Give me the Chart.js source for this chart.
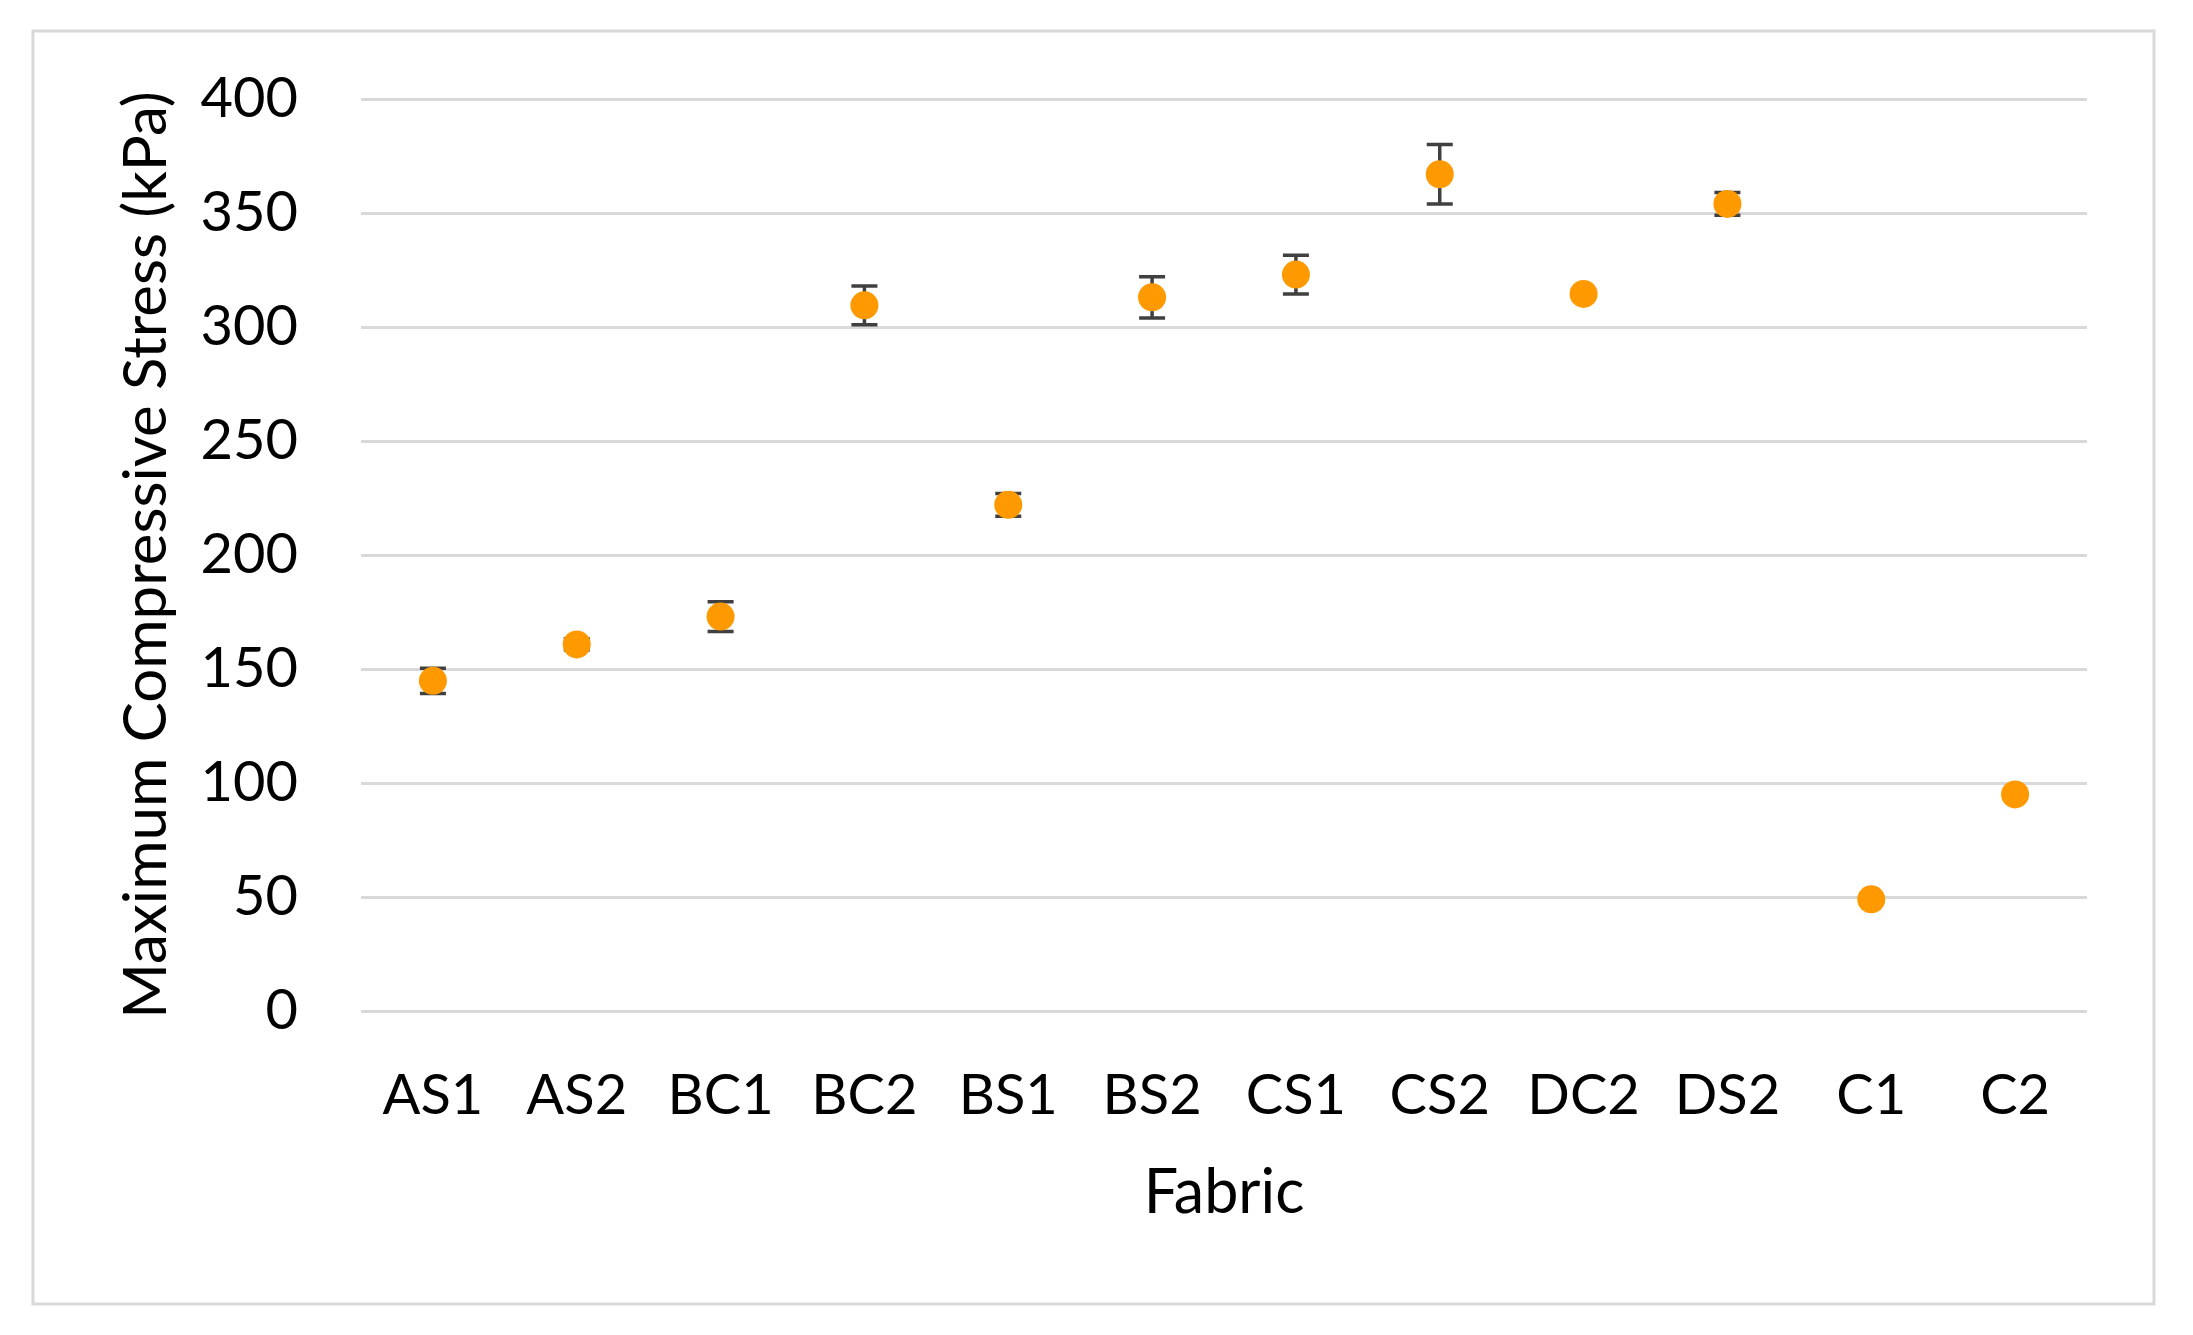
<!DOCTYPE html>
<html lang="en">
  <head>
    <meta charset="UTF-8" />
    <title>Maximum Compressive Stress</title>
    <style>
      body {
        margin: 0;
        background: #ffffff;
      }
      #grafico {
        display: block;
      }
    </style>
  </head>
  <body>
    <canvas id="grafico" width="2193" height="1335"></canvas>

    <script src="https://cdn.jsdelivr.net/npm/chart.js"></script>
    <script>
      const fabrics = ["AS1", "AS2", "BC1", "BC2", "BS1", "BS2", "CS1", "CS2", "DC2", "DS2", "C1", "C2"];
      const stress = [144.8, 160.8, 173, 309.5, 222, 313, 323, 367, 314.5, 354, 49, 95];
      const stressErr = [5.5, 2.5, 6.5, 8.5, 5, 9, 8.5, 13, 1, 5, 1, 1];
      const yTicks = [0, 50, 100, 150, 200, 250, 300, 350, 400];

      const fuente = "Lato, 'Open Sans', sans-serif";

      // marco gris alrededor de todo el gráfico
      const marco = {
        id: "marco",
        beforeDraw(chart) {
          const ctx = chart.ctx;
          ctx.save();
          ctx.fillStyle = "#ffffff";
          ctx.fillRect(0, 0, chart.width, chart.height);
          ctx.strokeStyle = "#d9d9d9";
          ctx.lineWidth = 3;
          ctx.strokeRect(33, 31, 2121, 1273);
          ctx.restore();
        },
      };

      // barras de error, debajo de los puntos
      const barrasError = {
        id: "barrasError",
        beforeDatasetsDraw(chart) {
          const ctx = chart.ctx;
          const x = chart.scales.x;
          const y = chart.scales.y;
          ctx.save();
          ctx.strokeStyle = "#404040";
          ctx.lineWidth = 3.5;
          stress.forEach((v, i) => {
            const px = x.getPixelForValue(i);
            const top = y.getPixelForValue(v + stressErr[i]);
            const bot = y.getPixelForValue(v - stressErr[i]);
            ctx.beginPath();
            ctx.moveTo(px, top);
            ctx.lineTo(px, bot);
            ctx.moveTo(px - 13, top);
            ctx.lineTo(px + 13, top);
            ctx.moveTo(px - 13, bot);
            ctx.lineTo(px + 13, bot);
            ctx.stroke();
          });
          ctx.restore();
        },
      };

      const contexto = document.getElementById("grafico").getContext("2d");
      new Chart(contexto, {
        type: "line",
        data: {
          labels: fabrics,
          datasets: [
            {
              label: "Maximum Compressive Stress",
              data: stress,
              showLine: false,
              pointRadius: 14,
              pointHoverRadius: 14,
              pointBackgroundColor: "#ff9900",
              pointBorderColor: "#ff9900",
              pointBorderWidth: 0,
            },
          ],
        },
        options: {
          responsive: false,
          animation: false,
          events: [],
          layout: {
            padding: { left: 0, top: 99, right: 106, bottom: 0 },
          },
          plugins: {
            legend: { display: false },
            tooltip: { enabled: false },
          },
          scales: {
            x: {
              type: "category",
              offset: true,
              grid: { display: false },
              border: { display: false },
              ticks: {
                color: "#000000",
                padding: 43,
                maxRotation: 0,
                font: { family: fuente, size: 56 },
              },
              title: {
                display: true,
                text: "Fabric",
                color: "#000000",
                font: { family: fuente, size: 61 },
                padding: { top: 0, bottom: 105 },
              },
              afterFit(scale) {
                scale.height = 324;
              },
            },
            y: {
              min: 0,
              max: 400,
              afterBuildTicks(scale) {
                scale.ticks = yTicks.map((v) => ({ value: v }));
              },
              grid: {
                color: "#d9d9d9",
                lineWidth: 3,
                drawTicks: false,
              },
              border: { display: false },
              ticks: {
                color: "#000000",
                padding: 63,
                font: { family: fuente, size: 56 },
              },
              title: {
                display: true,
                text: "Maximum Compressive Stress (kPa)",
                color: "#000000",
                font: { family: fuente, size: 60 },
                padding: { top: 111, bottom: 0 },
              },
              afterFit(scale) {
                scale.width = 361;
              },
            },
          },
        },
        plugins: [marco, barrasError],
      });
    </script>
  </body>
</html>
